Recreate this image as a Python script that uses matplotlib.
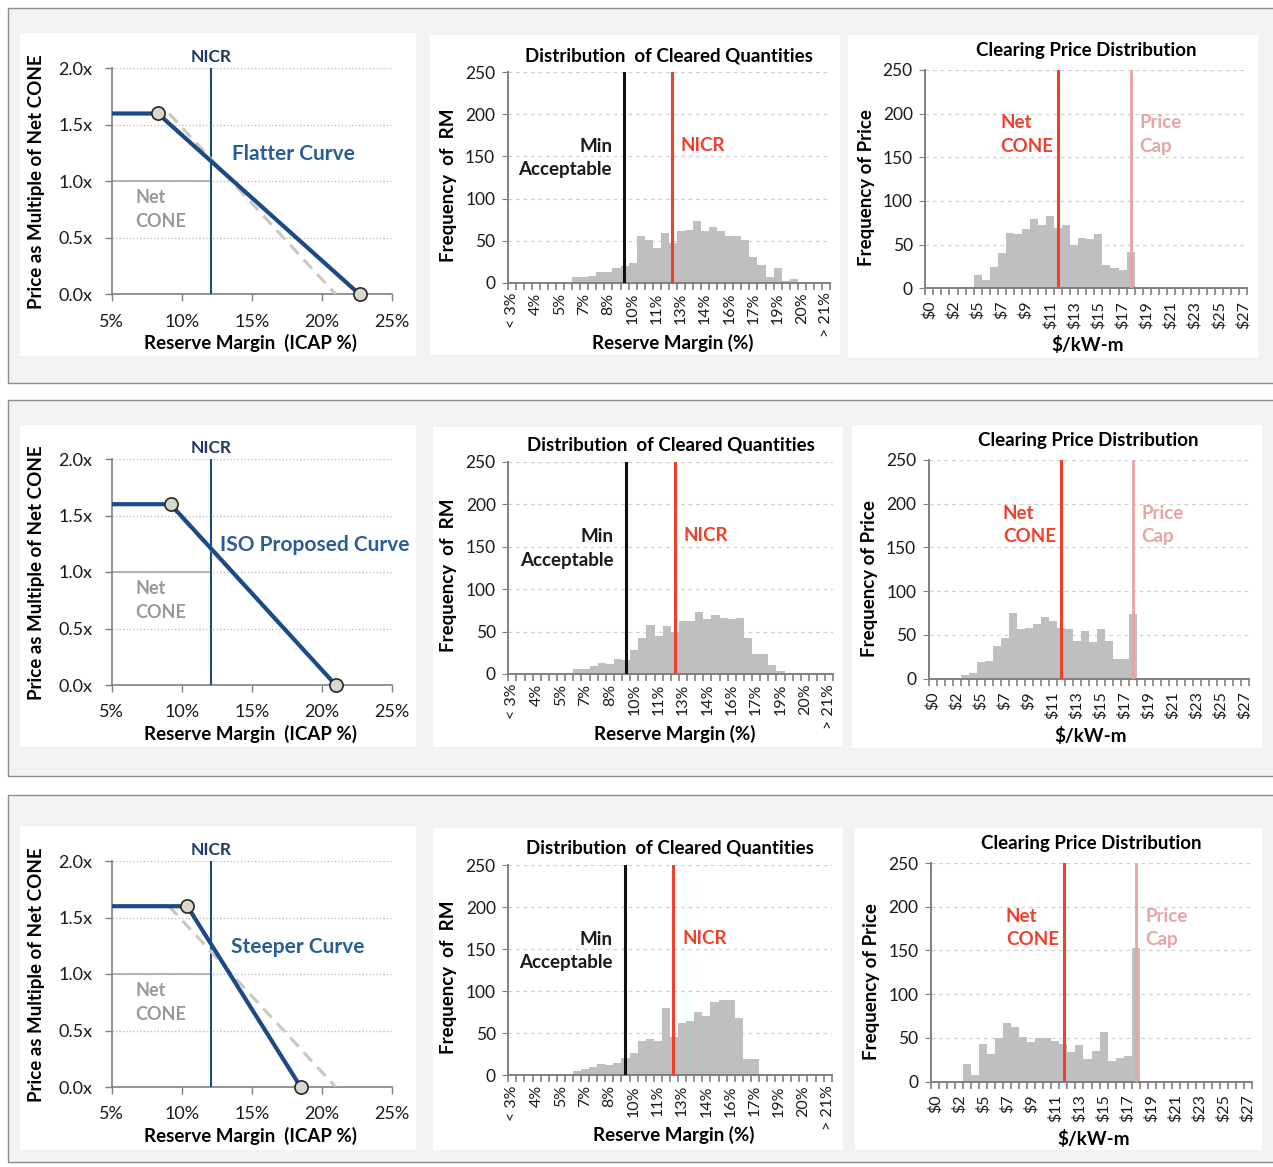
import matplotlib
matplotlib.use('Agg')
import matplotlib.pyplot as plt
from matplotlib.patches import Rectangle

plt.rcParams['font.family'] = ['Lato', 'DejaVu Sans']

# ---- data ----
rm_labels = ['< 3%', '4%', '5%', '7%', '8%', '10%', '11%', '13%', '14%',
             '16%', '17%', '19%', '20%', '> 21%']
price_labels = ['$0', '$2', '$5', '$7', '$9', '$11', '$13', '$15', '$17',
                '$19', '$21', '$23', '$25', '$27']

curve_names = ['Flatter Curve', 'ISO Proposed Curve', 'Steeper Curve']
curve_x = [[5.0, 8.3, 22.7],
           [5.0, 9.2, 21.0],
           [5.0, 10.4, 18.5]]
curve_y = [1.6, 1.6, 0.0]
iso_x = [9.1, 21.0]
iso_y = [1.6, 0.0]
nicr_pct = 12.1

# frequency of reserve margin, 40 bins
rm_freq = [
    [0, 0, 0, 0, 0, 1, 1, 0, 7, 7, 8, 13, 13, 18, 20, 23, 55, 51, 41, 59,
     47, 61, 63, 73, 61, 66, 62, 56, 56, 51, 31, 21, 7, 17, 2, 4, 0, 0, 0, 0],
    [0, 0, 0, 0, 0, 1, 1, 0, 6, 6, 9, 13, 12, 18, 17, 28, 42, 58, 45, 57,
     49, 63, 63, 73, 65, 69, 66, 65, 66, 43, 24, 24, 11, 4, 1, 0, 0, 0, 0, 0],
    [0, 0, 0, 0, 0, 1, 1, 0, 5, 8, 10, 13, 12, 15, 20, 26, 41, 43, 41, 80,
     46, 62, 64, 75, 71, 87, 90, 90, 68, 19, 19, 0, 0, 0, 0, 0, 0, 0, 0, 0],
]
# frequency of clearing price, 40 bins
price_freq = [
    [0, 0, 0, 0, 2, 1, 15, 10, 24, 40, 63, 62, 68, 79, 72, 83, 69, 72, 50, 58,
     56, 62, 27, 23, 21, 42, 0, 0, 0, 0, 0, 0, 0, 0, 0, 0, 0, 0, 0, 0],
    [0, 0, 0, 0, 4, 7, 19, 20, 37, 47, 75, 57, 58, 63, 70, 66, 58, 57, 43, 55,
     42, 57, 43, 23, 23, 74, 0, 0, 0, 0, 0, 0, 0, 0, 0, 0, 0, 0, 0, 0],
    [0, 0, 1, 1, 20, 8, 43, 32, 50, 67, 62, 51, 45, 50, 50, 46, 43, 34, 42, 26,
     35, 57, 24, 27, 29, 153, 0, 0, 0, 0, 0, 0, 0, 0, 0, 0, 0, 0, 0, 0],
]
min_acc_bin = [14.45, 14.47, 14.4]
nicr_bin = [20.4, 20.5, 20.4]
cone_bin = [16.5, 16.5, 16.55]
cap_bin = [25.5, 25.5, 25.6]

# ---- layout (pixels) ----
W, H = 1273, 1167


def box(l, t, r, b):
    return [l / W, 1 - b / H, (r - l) / W, (b - t) / H]


bands = [(8, 8, 1290, 383), (8, 400, 1290, 776), (8, 795, 1290, 1162)]
white_boxes = [
    [(20, 33, 416, 356), (430, 35, 840, 355), (848, 35, 1258, 358)],
    [(20, 425, 416, 747), (433, 427, 843, 747), (852, 425, 1262, 748)],
    [(20, 826, 416, 1150), (433, 828, 843, 1150), (855, 828, 1262, 1150)],
]
curve_boxes = [(111.7, 68.3, 391.7, 294.3), (111.7, 459, 391.7, 685),
               (111.7, 861, 391.7, 1087)]
rm_boxes = [(507.7, 72.3, 830, 282.7), (508.3, 462, 833.3, 674),
            (508.3, 865, 831.7, 1075.3)]
price_boxes = [(925.3, 70, 1247.3, 288.3), (928.7, 460, 1248.7, 678.7),
               (931, 863, 1252, 1081.7)]

navy = '#1c4a86'
txt_blue = '#2a5d96'
grey_bar = '#bfbfbf'
red = '#f0402a'
pink = '#e8a3a3'
axis_col = '#7f7f7f'
tick_col = '#1a1a1a'

fig = plt.figure(figsize=(W / 100, H / 100), dpi=100)
fig.patch.set_facecolor('white')

for r in range(3):
    l, t, rr, b = bands[r]
    fig.add_artist(Rectangle((l / W, 1 - b / H), (rr - l) / W, (b - t) / H,
                             transform=fig.transFigure, facecolor='#f2f2f2',
                             edgecolor='#8c8c8c', lw=1.0, zorder=-10))
    for (l, t, rr, b) in white_boxes[r]:
        fig.add_artist(Rectangle((l / W, 1 - b / H), (rr - l) / W, (b - t) / H,
                                 transform=fig.transFigure, facecolor='white',
                                 edgecolor='none', zorder=-9))


def style_spines(ax, lw):
    for s in ['top', 'right']:
        ax.spines[s].set_visible(False)
    for s in ['left', 'bottom']:
        ax.spines[s].set_color(axis_col)
        ax.spines[s].set_linewidth(lw)


for r in range(3):
    # ---------- demand curve ----------
    ax = fig.add_axes(box(*curve_boxes[r]))
    ax.set_xlim(5, 25)
    ax.set_ylim(0, 2.0)
    for yv in [0.5, 1.0, 1.5, 2.0]:
        ax.axhline(yv, color='#bdbdbd', lw=1.0, ls=(0, (1, 1.5)), zorder=1)
    ax.plot([5, nicr_pct], [1.0, 1.0], color='#a6a6a6', lw=1.2, zorder=2)
    ax.axvline(nicr_pct, color=navy, lw=1.5, zorder=3)
    ax.plot(iso_x, iso_y, color='#c8c8c0', lw=2.2, ls=(0, (4, 2.5)), zorder=3)
    ax.plot(curve_x[r], curve_y, color=navy, lw=3.0, zorder=4,
            solid_capstyle='butt')
    ax.plot(curve_x[r][1:], curve_y[1:], 'o', ms=9.5, mfc='#d9d9cb',
            mec='#262626', mew=1.2, zorder=5, clip_on=False)
    ax.text(nicr_pct, 2.03, 'NICR', ha='center', va='bottom', color='#1f3864',
            fontsize=12.5, fontweight='bold')
    ax.text([17.95, 19.5, 18.3][r], 1.24, curve_names[r], ha='center',
            va='center', color=txt_blue, fontsize=15, fontweight='bold')
    ax.text(6.7, 0.75, 'Net\nCONE', ha='left', va='center', color='#999999',
            fontsize=13, fontweight='bold', linespacing=1.5)
    ax.set_xticks([5, 10, 15, 20, 25])
    ax.set_xticklabels(['5%', '10%', '15%', '20%', '25%'])
    ax.set_yticks([0, 0.5, 1.0, 1.5, 2.0])
    ax.set_yticklabels(['0.0x', '0.5x', '1.0x', '1.5x', '2.0x'])
    ax.tick_params(labelsize=13, colors=tick_col, length=5, width=1,
                   direction='out', pad=9)
    ax.tick_params(axis='both', color=axis_col)
    style_spines(ax, 1.2)
    ax.set_xlabel('Reserve Margin  (ICAP %)', fontsize=13.5, fontweight='bold')
    ax.xaxis.set_label_coords(0.494, -0.215)
    ax.xaxis.label.set_va('center')
    ax.set_ylabel('Price as Multiple of Net CONE', fontsize=13.5,
                  fontweight='bold')
    ax.yaxis.set_label_coords(-0.267, 0.497)
    ax.yaxis.label.set_va('center')

    # ---------- reserve margin histogram ----------
    ax = fig.add_axes(box(*rm_boxes[r]))
    bins = list(range(len(rm_freq[r])))
    ax.bar(bins, rm_freq[r], width=1.0, align='edge', color=grey_bar,
           edgecolor='none', zorder=2)
    ax.set_xlim(0, 40)
    ax.set_ylim(0, 250)
    ax.set_yticks([0, 50, 100, 150, 200, 250])
    ax.yaxis.grid(True, color='#d0d0d0', ls=(0, (3, 3)), lw=0.9)
    ax.set_axisbelow(True)
    ax.axvline(min_acc_bin[r], color='#111111', lw=2.2, zorder=3)
    ax.axvline(nicr_bin[r], color=red, lw=2.2, zorder=3)
    ax.text(min_acc_bin[r] - 1.5, 148, 'Min\nAcceptable', ha='right',
            va='center', fontsize=13.5, fontweight='bold', color='#1a1a1a',
            multialignment='right', linespacing=1.45)
    ax.text(nicr_bin[r] + 1.1, 163, 'NICR', ha='left', va='center',
            fontsize=13.5, fontweight='bold', color=red)
    ax.set_xticks(range(0, 41), minor=True)
    ax.set_xticks([i + 0.5 for i in range(0, 40, 3)])
    ax.set_xticklabels(rm_labels, rotation=90)
    ax.tick_params(axis='x', which='major', length=0, labelsize=11.5,
                   colors=tick_col, pad=7)
    ax.tick_params(axis='x', which='minor', length=5, width=1.2, color=axis_col)
    ax.tick_params(axis='y', length=4, labelsize=12.5, colors=tick_col,
                   color=axis_col, pad=5)
    style_spines(ax, 1.4)
    ax.set_title('Distribution  of Cleared Quantities', fontsize=13.5,
                 fontweight='bold', pad=8)
    ax.set_xlabel('Reserve Margin (%)', fontsize=13.5, fontweight='bold')
    ax.xaxis.set_label_coords(0.513, -0.285)
    ax.xaxis.label.set_va('center')
    ax.set_ylabel('Frequency  of  RM', fontsize=13.5, fontweight='bold')
    ax.yaxis.set_label_coords(-0.185, 0.464)
    ax.yaxis.label.set_va('center')

    # ---------- clearing price histogram ----------
    ax = fig.add_axes(box(*price_boxes[r]))
    bins = list(range(len(price_freq[r])))
    ax.bar(bins, price_freq[r], width=1.0, align='edge', color=grey_bar,
           edgecolor='none', zorder=2)
    ax.set_xlim(0, 40)
    ax.set_ylim(0, 250)
    ax.set_yticks([0, 50, 100, 150, 200, 250])
    ax.yaxis.grid(True, color='#d0d0d0', ls=(0, (3, 3)), lw=0.9)
    ax.set_axisbelow(True)
    ax.axvline(cone_bin[r], color=red, lw=2.2, zorder=3)
    ax.axvline(cap_bin[r], color=pink, lw=2.0, zorder=3)
    ax.text(cone_bin[r] - 0.6, 176, 'Net\nCONE', ha='right', va='center',
            fontsize=13.5, fontweight='bold', color=red, multialignment='left',
            linespacing=1.45)
    ax.text(cap_bin[r] + 1.1, 176, 'Price\nCap', ha='left', va='center',
            fontsize=13.5, fontweight='bold', color=pink, linespacing=1.45)
    ax.set_xticks(range(0, 41), minor=True)
    ax.set_xticks([i + 0.5 for i in range(0, 40, 3)])
    ax.set_xticklabels(price_labels, rotation=90)
    ax.tick_params(axis='x', which='major', length=0, labelsize=11.5,
                   colors=tick_col, pad=9)
    ax.tick_params(axis='x', which='minor', length=5, width=1.2, color=axis_col)
    ax.tick_params(axis='y', length=4, labelsize=12.5, colors=tick_col,
                   color=axis_col, pad=5)
    style_spines(ax, 1.4)
    ax.set_title('Clearing Price Distribution', fontsize=13.5,
                 fontweight='bold', pad=10)
    ax.set_xlabel('$/kW-m', fontsize=13.5, fontweight='bold')
    ax.xaxis.set_label_coords(0.505, -0.26)
    ax.xaxis.label.set_va('center')
    ax.set_ylabel('Frequency of Price', fontsize=13.5, fontweight='bold')
    ax.yaxis.set_label_coords(-0.184, 0.46)
    ax.yaxis.label.set_va('center')

fig.savefig('out.png', dpi=100)
